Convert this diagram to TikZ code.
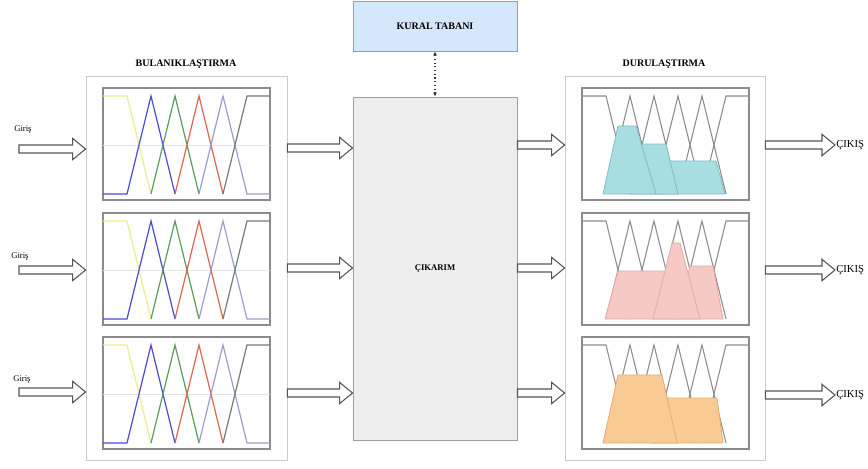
\documentclass[tikz,border=0pt]{standalone}
\usepackage{fontspec}
\setmainfont{Liberation Serif}
\usetikzlibrary{fit,calc,arrows.meta}
\definecolor{kuralfill}{HTML}{D5E7FB}
\definecolor{kuraldraw}{HTML}{7FA3CF}
\definecolor{cikfill}{HTML}{EEEEEE}
\definecolor{cikdraw}{HTML}{A0A0A0}
\definecolor{outerc}{HTML}{CCCCCC}
\definecolor{framec}{HTML}{8C8C8C}
\definecolor{glinec}{HTML}{8C8C8C}
\definecolor{gridc}{HTML}{E4E4E4}
\definecolor{cyanf}{HTML}{A8DDE1}
\definecolor{cyand}{HTML}{7CC0C6}
\definecolor{pinkf}{HTML}{F7C9C5}
\definecolor{pinkd}{HTML}{E3A9A4}
\definecolor{orangef}{HTML}{F9CB94}
\definecolor{oranged}{HTML}{E5AC70}
\definecolor{myyellow}{HTML}{EDED8A}
\definecolor{myblue}{HTML}{4A4AD4}
\definecolor{mygreen}{HTML}{5B9B5B}
\definecolor{myred}{HTML}{E0654F}
\definecolor{mylav}{HTML}{9C9CD2}
\definecolor{mydark}{HTML}{6F7F6F}
\definecolor{arrc}{HTML}{555555}
\newcommand{\barrow}[2]{%
  \draw[blockarr] let \p1=(#1), \p2=(#2) in
    (\x1,\y1+3pt) -- (\x2-9.75pt,\y1+3pt) -- (\x2-9.75pt,\y1+8pt) -- (\x2,\y1)
    -- (\x2-9.75pt,\y1-8pt) -- (\x2-9.75pt,\y1-3pt) -- (\x1,\y1-3pt) -- cycle;}
\newcommand{\leftpanel}[3]{%
  \node[panel, fit={(#2,#3) (#2+167,#3+112)}] (#1) {};
  \begin{scope}[shift={(#2,#3)}]
    \draw[gridc, line width=0.5pt] (0,57) -- (167,57);
    \draw[mf, myyellow] (0,8) -- (24,8) -- (48,106);
    \draw[mf, myblue] (0,106) -- (24,106) -- (48,8) -- (72,106);
    \draw[mf, mygreen] (48,106) -- (72,8) -- (96,106);
    \draw[mf, myred] (72,106) -- (96,8) -- (120,106);
    \draw[mf, mylav] (96,106) -- (120,8) -- (144,106) -- (167,106);
    \draw[mf, mydark] (120,106) -- (144,8) -- (167,8);
  \end{scope}}
\newcommand{\rightlines}{%
    \draw[gline] (0,8) -- (24,8) -- (48,106);
    \draw[gline] (24,106) -- (48,8) -- (72,106);
    \draw[gline] (48,106) -- (72,8) -- (96,106);
    \draw[gline] (72,106) -- (96,8) -- (120,106);
    \draw[gline] (96,106) -- (120,8) -- (144,106);
    \draw[gline] (120,106) -- (144,8) -- (167,8);}
\begin{document}
\begin{tikzpicture}[x=0.75pt,y=-0.75pt,
  outerbox/.style={draw=outerc, line width=0.6pt, inner sep=0pt},
  panel/.style={draw=framec, line width=1pt, inner sep=0pt},
  mf/.style={line width=0.9pt},
  gline/.style={draw=glinec, line width=0.8pt},
  cyanshape/.style={fill=cyanf, draw=cyand, line width=0.6pt},
  pinkshape/.style={fill=pinkf, draw=pinkd, line width=0.6pt},
  orangeshape/.style={fill=orangef, draw=oranged, line width=0.6pt},
  blockarr/.style={draw=arrc, fill=white, line width=0.8pt, line join=miter},
  hdr/.style={font=\fontsize{7.5}{9}\selectfont\bfseries, inner sep=0pt},
  lbl/.style={font=\fontsize{6.5}{8}\selectfont, inner sep=0pt, anchor=west},
  outlbl/.style={font=\fontsize{8}{9}\selectfont, inner sep=0pt, anchor=west}]
\path[use as bounding box, fill=white] (0,0) rectangle (868,468);

% outer boxes
\node[outerbox, fit={(86,76) (287,460)}] (lb) {};
\node[outerbox, fit={(565,76) (765,460)}] (rb) {};
\node[hdr] (hL) at (186,64) {BULANIKLAŞTIRMA};
\node[hdr] (hR) at (664,64) {DURULAŞTIRMA};

% rule base and inference
\node[draw=kuraldraw, fill=kuralfill, line width=0.7pt, inner sep=0pt, fit={(353,1) (517,51)}] (kural) {};
\node[hdr] (kuraltxt) at (kural.center) {KURAL TABANI};
\node[draw=cikdraw, fill=cikfill, line width=0.7pt, inner sep=0pt, fit={(353,97) (517,440)}] (cik) {};
\node[hdr, font=\fontsize{6.5}{8}\selectfont\bfseries] (ciktxt) at (cik.center) {ÇIKARIM};
\draw[dotted, line width=0.8pt, black!80, {Latex[length=3pt,width=3pt]}-{Latex[length=3pt,width=3pt]}] (kural.south) -- (cik.north);

% left panels
\leftpanel{L1}{103}{88}
\leftpanel{L2}{103}{213}
\leftpanel{L3}{103}{337}

% right panels
\node[panel, fit={(582,88) (749,200)}] (R1) {};
\begin{scope}[shift={(582,88)}]
  \rightlines
  \draw[cyanshape] (72,106) -- (80,73) -- (134,73) -- (143,106) -- cycle;
  \draw[cyanshape] (48,106) -- (60,56) -- (84,56) -- (96,106) -- cycle;
  \draw[cyanshape] (21,106) -- (36,38) -- (54,38) -- (74,106) -- cycle;
\end{scope}
\node[panel, fit={(582,213) (749,325)}] (R2) {};
\begin{scope}[shift={(582,213)}]
  \rightlines
  \draw[pinkshape] (23,106) -- (36,58) -- (83,58) -- (95,106) -- cycle;
  \draw[pinkshape] (95,106) -- (108,53) -- (131,53) -- (141,106) -- cycle;
  \draw[pinkshape] (71,106) -- (90,30) -- (98,30) -- (118,106) -- cycle;
\end{scope}
\node[panel, fit={(582,337) (749,449)}] (R3) {};
\begin{scope}[shift={(582,337)}]
  \rightlines
  \draw[orangeshape] (70,106) -- (85,61) -- (135,61) -- (141,106) -- cycle;
  \draw[orangeshape] (21,106) -- (36,38) -- (80,38) -- (95,106) -- cycle;
\end{scope}

% inputs
\coordinate (in1) at (19,149);
\coordinate (in2) at (19,270);
\coordinate (in3) at (19,392);
\node[lbl] (g1) at (14,130) {Giriş};
\node[lbl] (g2) at (11,257) {Giriş};
\node[lbl] (g3) at (13,380) {Giriş};
\barrow{in1}{lb.west |- in1}
\barrow{in2}{lb.west |- in2}
\barrow{in3}{lb.west |- in3}

% middle arrows
\coordinate (m1) at (287,148);
\coordinate (m2) at (287,268);
\coordinate (m3) at (287,393);
\barrow{lb.east |- m1}{cik.west |- m1}
\barrow{lb.east |- m2}{cik.west |- m2}
\barrow{lb.east |- m3}{cik.west |- m3}

% right-in arrows
\coordinate (r1) at (517,145);
\coordinate (r2) at (517,268);
\coordinate (r3) at (517,393);
\barrow{cik.east |- r1}{rb.west |- r1}
\barrow{cik.east |- r2}{rb.west |- r2}
\barrow{cik.east |- r3}{rb.west |- r3}

% outputs
\coordinate (o1) at (835,145);
\coordinate (o2) at (835,270);
\coordinate (o3) at (835,395);
\barrow{rb.east |- o1}{o1}
\barrow{rb.east |- o2}{o2}
\barrow{rb.east |- o3}{o3}
\node[outlbl] (c1) at (836,145) {ÇIKIŞ};
\node[outlbl] (c2) at (836,270) {ÇIKIŞ};
\node[outlbl] (c3) at (836,395) {ÇIKIŞ};
\end{tikzpicture}
\end{document}
